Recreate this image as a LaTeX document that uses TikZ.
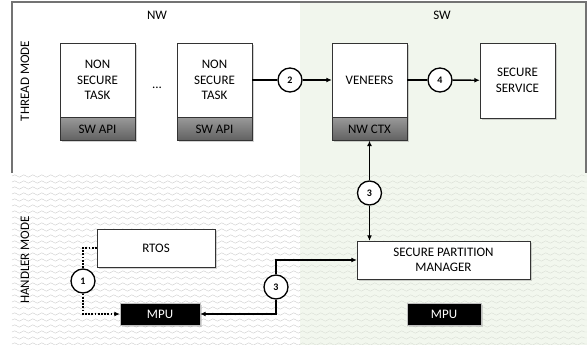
\documentclass[tikz,border=0pt]{standalone}
\usepackage{fontspec}
\setmainfont{Carlito}
\usetikzlibrary{positioning,shadows,arrows.meta,decorations.pathmorphing}
\definecolor{swgreen}{HTML}{E5EFDD}
\tikzset{box/.style={draw=black!80, fill=white, minimum width=75pt, align=center,
      inner sep=0pt, drop shadow={shadow xshift=2pt, shadow yshift=-2pt, opacity=.35}}}
\tikzset{band/.style={draw=black!80, top color=black!40, bottom color=black!62,
      minimum width=75pt, minimum height=23pt, inner sep=0pt,
      drop shadow={shadow xshift=2pt, shadow yshift=-2pt, opacity=.35}}}
\tikzset{blk/.style={draw=black!25, fill=black, text=white, minimum height=22pt,
      inner sep=0pt, drop shadow={shadow xshift=1.5pt, shadow yshift=-1.5pt, opacity=.3}}}
\tikzset{num/.style={circle, draw, line width=1.3pt, fill=white, minimum size=24pt,
      inner sep=0pt, font=\bfseries}}
\tikzset{ar/.style={line width=1.4pt, -{Latex[length=5.5pt,width=5pt]}}}
\tikzset{wave/.style={decorate, decoration={snake, segment length=9pt, amplitude=1.2pt},
      draw=black!20, line width=.4pt}}

\begin{document}
\begin{tikzpicture}[x=1pt,y=-1pt,font=\fontsize{13}{15.5}\selectfont]
		\useasboundingbox (0,0) rectangle (587,345);
		% background: thread mode / handler mode, NW / SW
		\fill[white] (12,2) rectangle (587,173);
		\foreach \y in {176,182,...,344}
			\draw[wave] (12,\y) -- (587,\y);
		\fill[swgreen, opacity=.5] (300,2) rectangle (587,345);
		\draw[black!55, line width=1.2pt] (12,173) -- (12,2) -- (586,2) -- (586,173);
		\node (nw) at (157,15) {NW};
		\node (sw) at (442,15) {SW};
		\node[rotate=90] (thread) at (25,81) {THREAD MODE};
		\node[rotate=90] (handler) at (25,260) {HANDLER MODE};
		% thread mode
		\node[box, minimum height=74pt] (nst1) at (97.5,80) {NON\\SECURE\\TASK};
		\node[band, below=0pt of nst1] (api1) {SW API};
		\node (dots) at (157,88) {...};
		\node[box, minimum height=74pt] (nst2) at (214.5,80) {NON\\SECURE\\TASK};
		\node[band, below=0pt of nst2] (api2) {SW API};
		\node[box, minimum height=74pt] (ven) at (369.5,80) {VENEERS};
		\node[band, below=0pt of ven] (ctx) {NW CTX};
		\node[box, minimum height=75pt] (svc) at (517.5,80.5) {SECURE\\SERVICE};
		% handler mode
		\node[box, minimum width=118pt, minimum height=38pt] (rtos) at (156,248) {RTOS};
		\node[blk, minimum width=80pt] (mpul) at (160,314) {MPU};
		\node[box, minimum width=173pt, minimum height=38pt] (spm) at (443.5,260) {SECURE PARTITION\\MANAGER};
		\node[blk, minimum width=74pt] (mpur) at (444,314) {MPU};
		% steps
		\node[num] (one) at (83,281) {1};
		\node[num] (two) at (290,80) {2};
		\node[num] (threea) at (369.5,193) {3};
		\node[num] (threeb) at (276,287) {3};
		\node[num] (four) at (440,80) {4};
		\draw[line width=1.4pt] (nst2) -- (two);
		\draw[ar] (two) -- (ven);
		\draw[line width=1.4pt] (ven) -- (four);
		\draw[ar] (four) -- (svc);
		\draw[ar] (threea) -- (ctx);
		\draw[ar] (threea) -- (threea |- spm.north);
		\draw[ar] (threeb) |- (spm);
		\draw[ar] (threeb) |- (mpul);
		\draw[line width=1.4pt, dash pattern=on 1.8pt off 1.4pt] (rtos) -| (one);
		\draw[ar, dash pattern=on 1.8pt off 1.4pt] (one) |- (mpul);
\end{tikzpicture}
\end{document}
